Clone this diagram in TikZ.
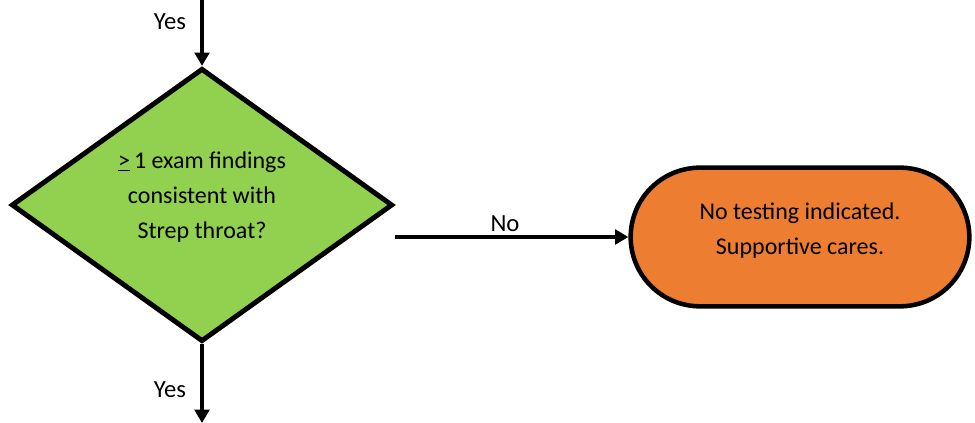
\documentclass[tikz,border=0pt]{standalone}
\usepackage{fontspec}
\setmainfont{Carlito}
\usetikzlibrary{shapes.geometric,arrows.meta}
\definecolor{dgreen}{HTML}{92D050}
\definecolor{torange}{HTML}{ED7D31}
\tikzset{
  decision/.style={diamond, draw=black, line width=3.7pt, fill=dgreen, minimum width=286pt, minimum height=205pt, inner sep=0pt},
  dtext/.style={align=center, inner sep=0pt, font=\fontsize{18}{26.3}\selectfont},
  terminal/.style={rectangle, rounded corners=52pt, draw=black, line width=3.4pt, fill=torange, minimum width=254pt, minimum height=104pt},
  flow/.style={line width=3pt, -{Triangle[width=11pt,length=10pt]}},
  lbl/.style={font=\fontsize{18.5}{20}\selectfont, inner sep=0pt}
}
\begin{document}
\begin{tikzpicture}[x=0.75pt,y=-0.75pt]
\useasboundingbox (0,0) rectangle (975,423);
\node[decision] (d) at (202,205) {};
\node[dtext] (dt) at (202,197) {\underline{>}\,1 exam findings\\consistent with\\Strep throat?};
\node[terminal] (t) at (800,237) {};
\node[dtext] (tt) at (800,231) {No testing indicated.\\Supportive cares.};
\coordinate (top) at (202,-2);
\coordinate (bot) at (202,423);
\coordinate (nostart) at (395,237);
\draw[flow] (top) -- (d.north);
\draw[flow] (d.south) -- (bot);
\draw[flow] (nostart) -- (t.west);
\node[lbl] (y1) at (170,22) {Yes};
\node[lbl] (y2) at (170,390) {Yes};
\node[lbl] (no) at (505,224) {No};
\end{tikzpicture}
\end{document}
